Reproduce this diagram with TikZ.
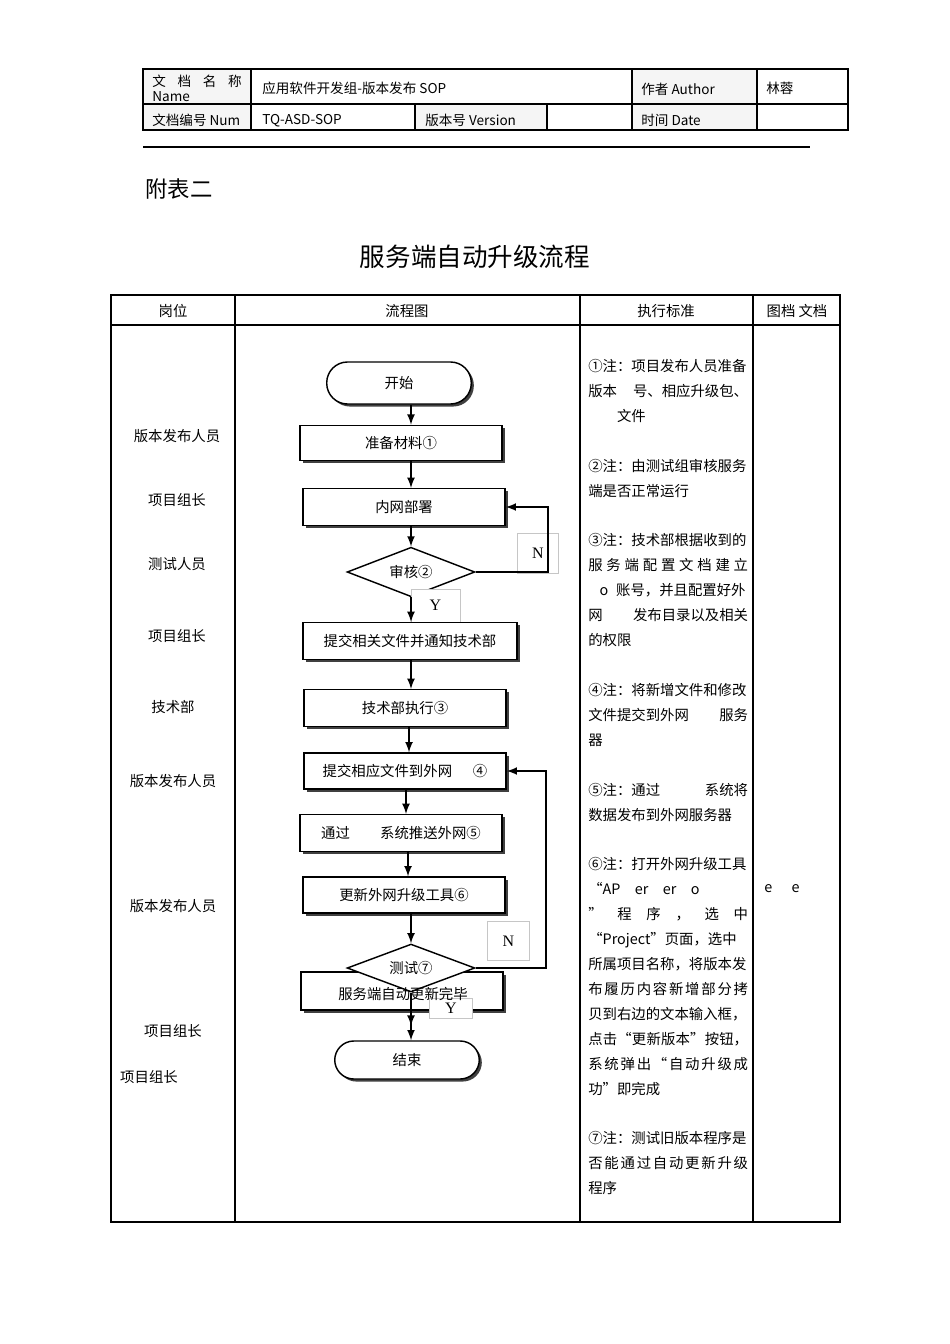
\documentclass[tikz,border=0pt]{standalone}
\usepackage{fontspec}
\setmainfont{Noto Sans CJK SC}
\newfontfamily\ynfont{Liberation Serif}
\usetikzlibrary{shapes}
\usetikzlibrary{positioning}
\usetikzlibrary{shadows}

\tikzset{
  stepbox/.style={draw, line width=0.9pt, fill=white, inner sep=0pt,
    minimum width=126.5pt, minimum height=23pt, font=\fontsize{9}{11}\selectfont,
    drop shadow={shadow xshift=1.6pt, shadow yshift=-1.6pt, fill=black!75, opacity=1}},
  termbox/.style={stepbox, rounded corners=12pt, minimum width=90.5pt},
  check/.style={diamond, aspect=2.6, draw, line width=0.9pt, fill=white, inner sep=0pt,
    minimum width=80pt, minimum height=31pt, font=\fontsize{9}{11}\selectfont},
  tagbox/.style={draw=gray!45, line width=0.5pt, fill=white, inner sep=0pt,
    font=\ynfont\fontsize{10}{12}\selectfont},
  flow/.style={->, line width=1.2pt},
  grid/.style={line width=0.8pt},
  note/.style={anchor=base west, text width=100pt, align=left, inner sep=0pt,
    font=\fontsize{9}{15.65}\selectfont},
  post/.style={font=\fontsize{9}{11}\selectfont},
  head/.style={anchor=west, inner sep=0pt, font=\fontsize{8.5}{10}\selectfont},
}

\begin{document}
\begin{tikzpicture}[x=0.626pt, y=-0.626pt, >=latex]
\useasboundingbox (0,0) rectangle (950,1344);
\fill[white] (0,0) rectangle (950,1344);

% document header
\fill[gray!8] (143,69) rectangle (251,130);
\fill[gray!8] (632,69) rectangle (757,130);
\fill[gray!8] (415,104) rectangle (547,130);
\draw[grid] (143,69) rectangle (848,130);
\draw[grid] (143,104) -- (848,104);
\draw[grid] (251,69) -- (251,130);
\draw[grid] (632,69) -- (632,130);
\draw[grid] (757,69) -- (757,130);
\draw[grid] (415,104) -- (415,130);
\draw[grid] (547,104) -- (547,130);
\node[head] (hname) at (152,81) {\makebox[56pt][s]{文\hfill 档\hfill 名\hfill 称}};
\node[head] (hnameen) at (152,97) {Name};
\node[head] (htitle) at (262,88) {应用软件开发组-版本发布 SOP};
\node[head] (hauthor) at (641,89) {作者 Author};
\node[head] (hwho) at (766,88) {林蓉};
\node[head] (hnum) at (152,120) {文档编号 Num};
\node[head] (hcode) at (262,121) {TQ-ASD-SOP};
\node[head] (hver) at (425,120) {版本号 Version};
\node[head] (hdate) at (641,120) {时间 Date};
\draw[line width=1.4pt] (143,147) -- (810,147);

\node[font=\fontsize{14}{16}\selectfont, anchor=west, inner sep=0pt] (annex) at (145,189) {附表二};
\node[font=\fontsize{16}{18}\selectfont] (title) at (475,257) {服务端自动升级流程};

% main table
\draw[grid] (111,295) rectangle (840,1222);
\draw[grid] (111,325) -- (840,325);
\foreach \cx in {235,580,753}
  \draw[grid] (\cx,295) -- (\cx,1222);
\node[post] (hpost) at (173,311) {岗位};
\node[post] (hflow) at (407,311) {流程图};
\node[post] (hstd) at (666,311) {执行标准};
\node[post] (hdoc) at (797,311) {图档 文档};

% who does what
\foreach \px/\py/\who [count=\i] in {177/436/版本发布人员, 177/500/项目组长,
    177/564/测试人员, 177/636/项目组长, 173/707/技术部, 173/781/版本发布人员,
    173/906/版本发布人员, 173/1031/项目组长, 149/1077/项目组长}
  \node[post] (post\i) at (\px,\py) {\who};

% flow chart
\node[termbox, minimum height=26.3pt, rounded corners=13pt] (start) at (399,383) {开始};
\node[stepbox, minimum height=22pt] (prep) at (401,443) {准备材料①};
\node[stepbox] (intra) at (404,507) {内网部署};
\node[check] (chk2) at (411,572) {审核②};
\node[tagbox, minimum width=30.7pt, minimum height=20.7pt] (y2) at (435.5,605.5) {Y};
\node[stepbox, minimum width=134pt] (submit) at (410,641) {提交相关文件并通知技术部};
\node[stepbox] (exec) at (405,708) {技术部执行③};
\node[stepbox, minimum height=22.5pt] (upload) at (405,771) {提交相应文件到外网\hspace{13pt}④};
\node[stepbox] (push) at (401,833) {通过\hspace{19pt}系统推送外网⑤};
\node[stepbox, minimum height=22.5pt] (tool) at (404,895) {更新外网升级工具⑥};
\node[stepbox, minimum height=23.8pt] (done) at (402,991) {};
\node[check, minimum height=30pt] (chk7) at (411,968) {测试⑦};
\node[tagbox, minimum width=27pt, minimum height=12.5pt] (y7) at (451,1008) {Y};
\node[post] (donetext) at (403,994) {服务端自动更新完毕};
\node[termbox, minimum height=23.8pt] (end) at (407,1060) {结束};
\node[tagbox, minimum width=25.7pt, minimum height=25pt] (n2) at (538,553) {N};
\node[tagbox, minimum width=26.3pt, minimum height=24.4pt] (n7) at (508.5,941) {N};

\coordinate (bend2) at (548,572);
\coordinate (bend7) at (546,968);
\draw[flow] (start.south -| 411,0) -- (prep.north -| 411,0);
\draw[flow] (prep.south -| 411,0) -- (intra.north -| 411,0);
\draw[flow] (intra.south -| chk2.north) -- (chk2.north);
\draw[flow] (chk2.south) -- (submit.north -| chk2.south);
\draw[flow] (submit.south -| 411,0) -- (exec.north -| 411,0);
\draw[flow] (exec.south -| 409,0) -- (upload.north -| 409,0);
\draw[flow] (upload.south -| 406,0) -- (push.north -| 406,0);
\draw[flow] (push.south -| 408,0) -- (tool.north -| 408,0);
\draw[flow] (tool.south -| chk7.north) -- (chk7.north);
\draw[flow] (chk7.south) -- ++(0,33);
\draw[flow] (done.south -| 411,0) -- (end.north -| 411,0);
\draw[flow] (chk2.east) -- (bend2) |- (intra.east);
\draw[flow] (chk7.east) -- (bend7) |- (upload.east);

% notes
\node[note] (note1) at (588,371) {①注：项目发布人员准备\\
  版本\hfill 号、相应升级包、\\
  \hspace*{18pt}文件};
\node[note] (note2) at (588,471) {②注：由测试组审核服务\\
  端是否正常运行};
\node[note] (note3) at (588,545) {③注：技术部根据收到的\\
  服\hfill 务\hfill 端\hfill 配\hfill 置\hfill 文\hfill 档\hfill 建\hfill 立\\
  \hspace*{7pt}o\hspace{5pt}账号，并且配置好外\\
  网\hfill 发布目录以及相关\\
  的权限};
\node[note] (note4) at (588,695) {④注：将新增文件和修改\\
  文件提交到外网\hfill 服务\\
  器};
\node[note] (note5) at (588,795) {⑤注：通过\hfill 系统将\\
  数据发布到外网服务器};
\node[note] (note6) at (588,869) {⑥注：打开外网升级工具\\
  “AP\quad er\quad er\quad o\\
  ”\hfill 程\hfill 序\hfill ，\hfill 选\hfill 中\\
  “Project”页面，选中\\
  所属项目名称，将版本发\\
  布\hfill 履\hfill 历\hfill 内\hfill 容\hfill 新\hfill 增\hfill 部\hfill 分\hfill 拷\\
  贝到右边的文本输入框，\\
  点\hfill 击\hfill “\hfill 更\hfill 新\hfill 版\hfill 本\hfill ”\hfill 按\hfill 钮，\\
  系\hfill 统\hfill 弹\hfill 出\hfill “\hfill 自\hfill 动\hfill 升\hfill 级\hfill 成\\
  功”即完成};
\node[note] (note7) at (588,1143) {⑦注：测试旧版本程序是\\
  否\hfill 能\hfill 通\hfill 过\hfill 自\hfill 动\hfill 更\hfill 新\hfill 升\hfill 级\\
  程序};
\node[post] (docs) at (782,889) {e\hspace{12pt}e};
\end{tikzpicture}
\end{document}
